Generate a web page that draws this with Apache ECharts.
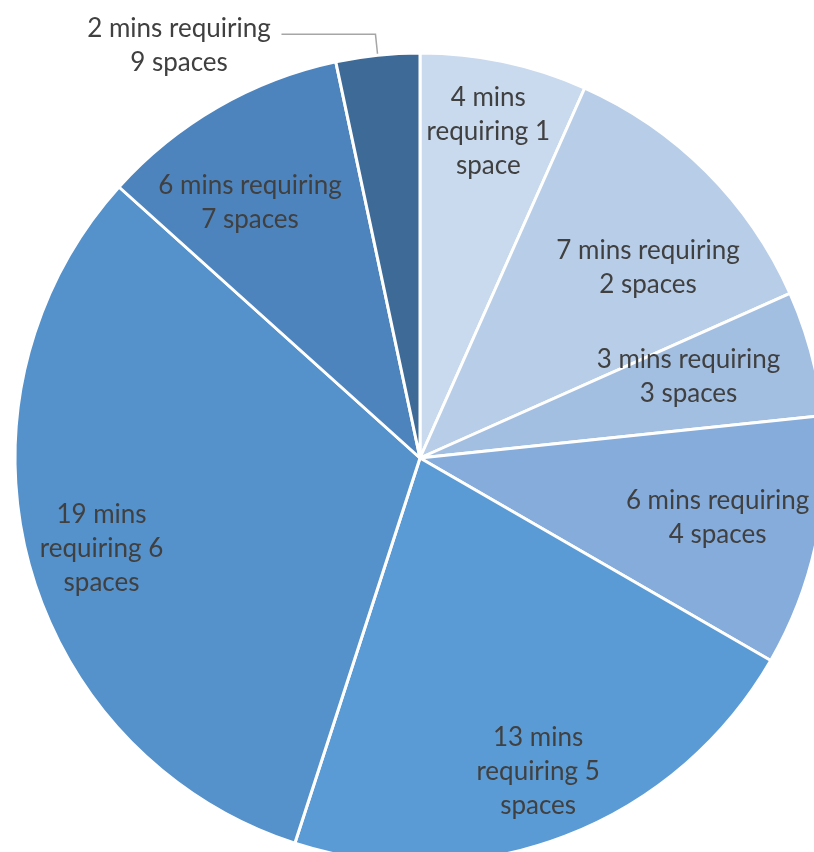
<!DOCTYPE html>
<html>
<head>
<meta charset="utf-8">
<script src="https://cdn.jsdelivr.net/npm/echarts@6/dist/echarts.min.js"></script>
<style>
html, body { margin: 0; padding: 0; background: #fff; }
#pieChart { width: 814px; height: 852px; }
</style>
</head>
<body>
<div id="pieChart"></div>
<script>
// minutes of the day needing N parking spaces
var minutes = [4, 7, 3, 6, 13, 19, 6, 2];
var spaces = [1, 2, 3, 4, 5, 6, 7, 9];
var labelTexts = [
	'4 mins\nrequiring 1\nspace',
	'7 mins requiring\n2 spaces',
	'3 mins requiring\n3 spaces',
	'6 mins requiring\n4 spaces',
	'13 mins\nrequiring 5\nspaces',
	'19 mins\nrequiring 6\nspaces',
	'6 mins requiring\n7 spaces',
	'2 mins requiring\n9 spaces'
];
var sliceColors = ['#c9d9ee', '#b8cde7', '#a2bee1', '#85acda', '#5b9bd5', '#5591ca', '#4e84bd', '#3e6a97'];
// small nudges so inside labels sit where Excel put them
var labelNudge = [[-2, 4], [-11, 49], [-58, 6], [-33, -11], [-3, -2], [8, 3], [-1, 37]];

var chart = echarts.init(document.getElementById('pieChart'));

var sliceData = [];
var labelData = [];
for (var i = 0; i < minutes.length; i++) {
	var outside = (i == minutes.length - 1);
	sliceData.push({
		name: labelTexts[i],
		value: minutes[i],
		itemStyle: { color: sliceColors[i] },
		label: { show: outside },
		labelLine: { show: outside }
	});
	labelData.push({
		name: labelTexts[i],
		value: minutes[i],
		label: { show: !outside }
	});
}

var textBase = {
	fontFamily: 'Lato',
	fontSize: 26,
	lineHeight: 34,
	color: '#404040'
};

var option = {
	animation: false,
	series: [{
		name: 'slices',
		type: 'pie',
		center: [420, 458],
		radius: 405,
		startAngle: 90,
		clockwise: true,
		avoidLabelOverlap: false,
		silent: true,
		itemStyle: { borderColor: '#ffffff', borderWidth: 3 },
		label: {
			position: 'outside',
			padding: [22, 0, 0, 0],
			distanceToLabelLine: 5,
			formatter: function (p) {
				return p.name.split('\n').map(function (s) { return '{t|' + s + '}'; }).join('\n');
			},
			rich: {
				t: {
					fontFamily: 'Lato',
					fontSize: 26,
					lineHeight: 34,
					color: '#404040',
					width: 195,
					align: 'center'
				}
			}
		},
		labelLine: {
			length: 21,
			length2: 94,
			smooth: false,
			lineStyle: { color: '#a6a6a6', width: 1.5 }
		},
		data: sliceData
	}, {
		name: 'labels',
		type: 'pie',
		center: [420, 458],
		radius: 670,
		startAngle: 90,
		clockwise: true,
		avoidLabelOverlap: false,
		silent: true,
		z: 5,
		itemStyle: { color: 'rgba(0,0,0,0)', borderWidth: 0 },
		label: Object.assign({ position: 'inside', align: 'center' }, textBase),
		labelLine: { show: false },
		labelLayout: function (p) {
			var n = labelNudge[p.dataIndex] || [0, 0];
			return { dx: n[0], dy: n[1] };
		},
		data: labelData
	}]
};
chart.setOption(option);
</script>
</body>
</html>
